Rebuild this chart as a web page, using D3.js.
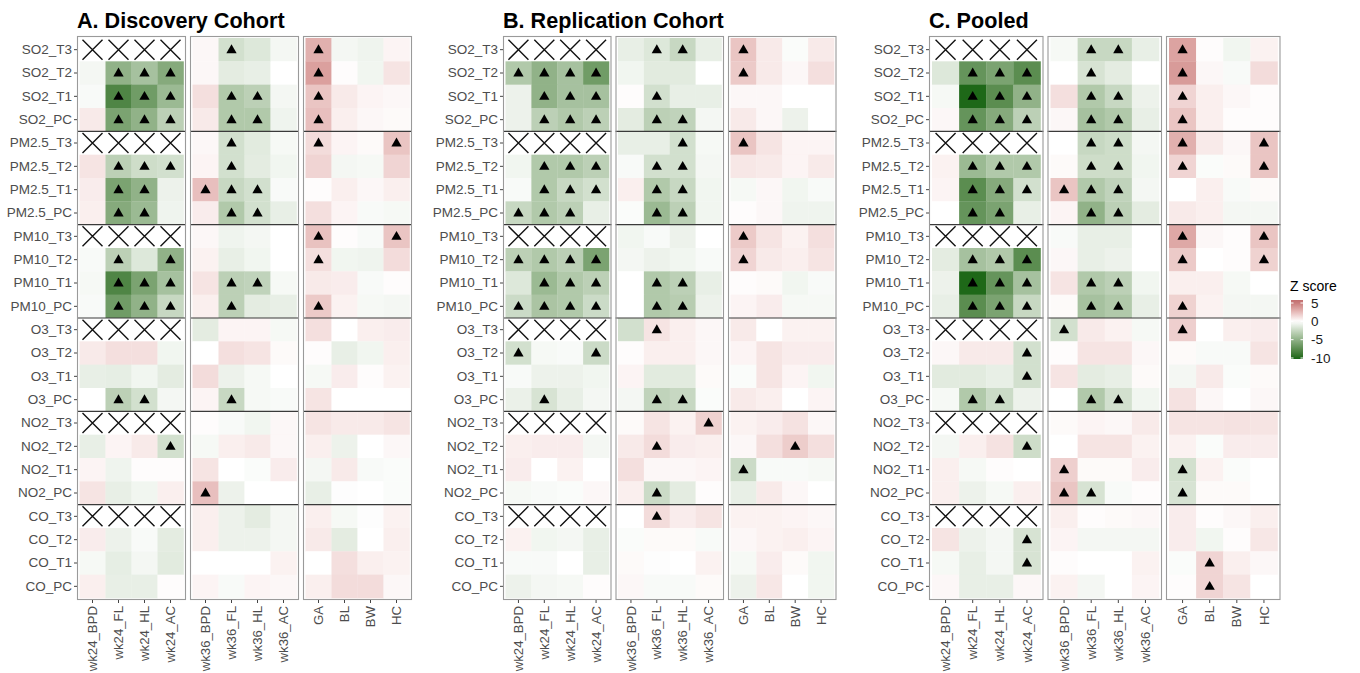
<!DOCTYPE html>
<html><head><meta charset="utf-8">
<script src="https://cdn.jsdelivr.net/npm/d3@7"></script>
<style>body{margin:0;background:#fff} text{font-family:"Liberation Sans",Arial,sans-serif}</style>
</head><body>
<svg id="c" width="1360" height="673"></svg>
<script>
const rows = ["SO2_T3","SO2_T2","SO2_T1","SO2_PC","PM2.5_T3","PM2.5_T2","PM2.5_T1","PM2.5_PC",
  "PM10_T3","PM10_T2","PM10_T1","PM10_PC","O3_T3","O3_T2","O3_T1","O3_PC",
  "NO2_T3","NO2_T2","NO2_T1","NO2_PC","CO_T3","CO_T2","CO_T1","CO_PC"];
const facetCols = [["wk24_BPD","wk24_FL","wk24_HL","wk24_AC"],["wk36_BPD","wk36_FL","wk36_HL","wk36_AC"],["GA","BL","BW","HC"]];
const titles = ["A. Discovery Cohort","B. Replication Cohort","C. Pooled"];
const legendTicks = [5,0,-5,-10];
const n = null;

const zA = [
[n,n,n,n, 0.3,-2,-1.5,-0.5, 3,-0.5,-0.7,0.4],
[-0.5,-5,-4,-5.5, 0.3,-1.2,-1,0, 3.6,0.1,-0.6,1],
[-0.3,-8,-6.5,-4.5, 1.2,-3.5,-3,-0.5, 2.2,0.8,0.4,0.3],
[0.8,-6,-5,-3, 0.8,-3.5,-3.5,-0.7, 2.4,0.6,0.3,0.2],
[n,n,n,n, 0.3,-2,-1.3,-0.4, 1.3,0.4,0.2,2.2],
[1,-3,-2.2,-2, 0.4,-2,-1.2,-0.6, 1.6,-0.5,-0.4,1.6],
[0.7,-6,-5,-0.8, 2.4,-2.5,-2,-0.3, 0.1,0.6,0.3,0.6],
[0.6,-5.5,-4.5,-0.7, 0.7,-3.5,-2,-1, 1.2,0.4,-0.3,-0.4],
[n,n,n,n, 0.3,-0.7,-0.5,0, 2.3,0.1,-0.3,2.2],
[-0.3,-3,-1.5,-5, 0.5,-1,-0.6,0, 1.2,-0.6,-0.7,1.3],
[-0.4,-8,-6,-4, 1,-3,-2.8,-0.4, 0.8,0.7,-0.3,0.1],
[-0.3,-6.5,-5,-2.5, 0.6,-3,-1.2,-1, 2,0.5,-0.4,-0.5],
[n,n,n,n, -1.2,0.4,0.4,-0.4, 1.2,0,0.6,0.7],
[0.8,1.2,1.2,-0.6, 0,1.2,1,0.2, 0.1,-1,-0.6,0.6],
[-1,-1.1,-0.6,-1.2, 1.3,-0.8,-0.4,0, -0.4,0.7,0.1,0.5],
[0,-3,-2,-0.5, 0.4,-2.5,-0.4,-0.3, 1,0,0,0],
[n,n,n,n, 0.1,-0.3,-0.6,0.3, 1,0.8,0.8,1],
[-1,0.4,0.8,-2, -0.4,0.6,0.8,0.3, 0.6,-0.8,0,0.3],
[0.4,-0.7,0.1,0.1, 1,0,-0.2,0.7, -0.5,0.8,-0.3,-0.2],
[1,-1,-0.6,0.6, 2.4,-0.8,0,0, -1,-0.1,0,-0.2],
[n,n,n,n, 0.6,-0.8,-1.2,-0.5, 0.6,-0.4,-0.1,0.5],
[0.7,-0.8,-0.3,-1.2, 0.6,-0.8,-0.8,-0.5, 0.8,-1.2,0,0.6],
[-0.4,-1.1,-0.5,-1.3, 0,0,0,0.5, 0,1.2,0.6,0.5],
[0.6,-1,-1,0.1, 0.4,-0.3,0.4,0.3, 0.6,1.3,1.3,0.3]];

const zB = [
[n,n,n,n, -1,-1.5,-2.5,-1, 2.2,0.8,-0.2,0.8],
[-3.5,-5,-4,-6.5, -0.6,-1.3,-1.3,0, 2,0.8,0.3,1.2],
[-0.8,-5,-4,-4, 0.1,-2,-1,-1, 0.3,0.3,0,0],
[-0.8,-3,-3.5,-3, -1.2,-3,-2.8,-0.5, 0.8,0.3,-0.8,0],
[n,n,n,n, -1,-1,-2,-0.4, 2.2,1,0.4,0.4],
[-0.6,-3.5,-3.5,-3, -0.3,-2,-2,-0.5, 0.9,0.8,0.4,0.8],
[-0.3,-3.5,-2.5,-2, 0.6,-3.5,-2.5,-0.6, -0.4,0.3,-0.6,-0.3],
[-2.5,-3.5,-3,-1, -0.2,-4.5,-3,-0.6, 0.1,0.3,-0.7,-0.7],
[n,n,n,n, -0.6,-0.3,-0.8,0, 2,1,0.5,1.2],
[-3,-3.5,-3,-6, -0.5,-0.8,-0.6,-0.3, 1.6,0.8,0.6,1],
[-1.5,-4.5,-3.5,-3, 0,-3.5,-3,-1, 0.1,0.2,-0.6,-0.3],
[-2.3,-3.8,-3.5,-2.3, 0,-3.5,-3.2,-0.8, 0.4,0.7,-0.4,-0.4],
[n,n,n,n, -2,1,0.6,0.3, 0.8,0,0.5,0.5],
[-2,-0.4,-0.3,-2.3, 0.1,0.6,0.6,0.3, 0.4,1,0.7,0.7],
[-0.3,-0.8,-0.8,-0.6, 0.4,-1.3,-1.3,0.2, -0.2,1,0.4,-0.6],
[-0.9,-1.8,-1,-0.5, -0.5,-2.8,-2.5,-0.2, 0.8,0.6,0,0.4],
[n,n,n,n, 0.2,1,0.5,1.7, 0.5,0.7,1.1,0.3],
[0.6,0.7,0.7,-0.5, 0.8,1.3,0.7,0.6, 0.3,1.2,1.9,1.2],
[0.7,0,0.5,0, 1.2,0.3,0.3,0.4, -2.3,-0.3,-0.3,-0.4],
[-0.4,-0.3,-0.2,0.3, 0.6,-2.3,-1.2,0.1, -1,0.8,0.3,0],
[n,n,n,n, 0,1.3,0.7,1, 0.5,0.5,0.4,0.3],
[0.5,-0.6,-0.5,-1, -0.2,0.2,0.2,-0.3, 0.3,0.5,0.6,0.4],
[-0.3,-0.3,0,-1, 0.2,-0.1,0,0.5, -0.4,0.7,0.2,-0.6],
[-0.8,-0.5,-0.4,0.1, 0.3,-0.3,-0.3,0.2, -0.8,0.9,0,-0.6]];

const zC = [
[n,n,n,n, -0.4,-2.5,-2.5,-1, 3.5,0.1,-0.6,0.5],
[-1.5,-7,-6,-7.5, 0,-1.8,-1.2,0, 3.8,0.3,-0.3,1.3],
[-0.4,-10,-7.5,-5, 1.2,-3.5,-2.5,-0.8, 1.6,0.6,0.3,0.1],
[0.3,-7,-5.5,-3, 0.3,-4,-3.5,-1, 2.2,0.6,0.1,0.1],
[n,n,n,n, 0,-2.5,-2.2,-0.5, 3,0.8,0.3,2.2],
[0.5,-4.5,-3.5,-3.5, 0.2,-2.2,-2.2,-0.6, 1.6,-0.2,0.2,2.2],
[0.4,-7.5,-5.5,-2, 2.2,-3.5,-2.8,-0.5, 0,0.6,-0.3,0.2],
[0,-7,-6,-1, 0.4,-5,-3,-1.2, 0.8,0.6,-0.5,-0.5],
[n,n,n,n, -0.3,-1,-1,0, 3.3,0.3,0.1,2.2],
[-1.2,-4,-3.5,-7.5, 0.3,-1,-0.8,0, 2,0,0.1,1.7],
[-0.8,-10,-7,-4, 1,-3.5,-3,-0.6, 0.6,0.6,-0.4,0],
[-1,-7.5,-6,-2.5, 0.2,-4,-3.5,-1, 1.7,0.5,-0.5,-0.5],
[n,n,n,n, -2,0.8,0.5,-0.4, 1.8,0,0.6,0.7],
[0.3,0.8,0.8,-2, 0.1,1,1,0.3, 0.2,-0.3,-0.3,1],
[-1.3,-1.3,-1,-2, 1,-1.2,-1,0.2, -0.5,0.8,-0.2,0.2],
[-0.4,-3.5,-2.3,-0.8, 0,-3.5,-2,-0.6, 1.1,0.3,0,0.3],
[n,n,n,n, 0.2,0.4,0.3,0.8, 1,1,1.1,1],
[-0.5,0.6,1.1,-2.2, 0,1,1,0.5, 0.5,-0.2,0.7,0.7],
[0.6,-0.4,0.1,0, 1.8,0.2,0.2,0.7, -2,0.5,-0.2,0],
[0.6,-0.8,-0.4,0.6, 2.2,-1.8,-0.3,0.1, -1.8,0.2,0.2,0],
[n,n,n,n, 0.6,0.1,0.2,0.3, 0.7,0.1,0.3,0.6],
[1,-0.8,-0.5,-1.8, 0.4,-0.5,-0.5,-0.5, 0.7,-0.6,0.1,0.9],
[-0.4,-1,-0.5,-1.8, 0.1,0,0,0.5, -0.2,1.6,0.6,0.3],
[0.3,-1,-1,0.3, 0.5,-0.5,0,0.4, 0.1,1.6,1,0]];

// significant cells (column indices 0..11) per row
const sigA = [[5,8],[1,2,3,8],[1,2,3,5,6,8],[1,2,3,5,6,8],[5,8,11],[1,2,3,5],[1,2,4,5,6],[1,2,5,6],
  [8,11],[1,3,8],[1,2,3,5,6],[1,2,3,5,8],[],[],[],[1,2,5],[],[3],[],[4],[],[],[],[]];
const sigB = [[5,6,8],[0,1,2,3,8],[1,2,3,5],[1,2,3,5,6],[6,8],[1,2,3,5,6],[1,2,3,5,6],[0,1,2,5,6],
  [8],[0,1,2,3,8],[1,2,3,5,6],[0,1,2,3,5,6],[5],[0,3],[],[1,5,6],[7],[5,10],[8],[5],[5],[],[],[]];
const sigC = [[5,6,8],[1,2,3,5,8],[1,2,3,5,6,8],[1,2,3,5,6,8],[5,6,8,11],[1,2,3,5,6,8,11],[1,2,3,4,5,6],[1,2,5,6],
  [8,11],[1,2,3,8,11],[1,2,3,5,6],[1,2,3,5,6,8],[4,8],[3],[3],[1,2,5,6],[],[3],[4,8],[4,5,8],[],[3],[3,9],[9]];

const panels = [
  {title:titles[0], z:zA, sig:sigA, x0:77,  fw:109,   sp:113,   pad:2.5},
  {title:titles[1], z:zB, sig:sigB, x0:503, fw:108.5, sp:112.5, pad:2.5},
  {title:titles[2], z:zC, sig:sigC, x0:929, fw:114.5, sp:118.5, pad:3}
];

const svg = d3.select("#c");
const color = d3.scaleLinear().domain([-10.3,0,5.55]).range(["#136410","#ffffff","#c26e6e"])
  .interpolate(d3.interpolateLab).clamp(true);
const top0 = 36, bot0 = 600;
const y = d3.scaleBand().domain(rows).range([top0+2, bot0-2]);
const tri = d3.symbol().type(d3.symbolTriangle).size(46)();

panels.forEach(p => {
  const g = svg.append("g");
  g.append("text").attr("x", p.x0).attr("y", 28).text(p.title)
    .style("font-weight","bold").style("font-size","21.6px").attr("fill","#000");
  facetCols.forEach((cols, fi) => {
    const fx = p.x0 + fi*p.sp;
    const x = d3.scaleBand().domain(cols).range([fx+p.pad, fx+p.fw-p.pad]);
    const cells = [];
    rows.forEach((r, ri) => cols.forEach((c, ci) => {
      const k = fi*4 + ci;
      cells.push({r, c, v: p.z[ri][k], s: p.sig[ri].includes(k)});
    }));
    g.append("rect").attr("x", fx).attr("y", top0).attr("width", p.fw).attr("height", bot0-top0).attr("fill","#fff");
    g.append("g").selectAll("rect").data(cells).join("rect")
      .attr("x", d => x(d.c)).attr("y", d => y(d.r))
      .attr("width", x.bandwidth()+0.3).attr("height", y.bandwidth()+0.3)
      .attr("fill", d => d.v == null ? "#fff" : color(d.v));
    const xs = cells.filter(d => d.v == null);
    const h = 10;
    g.append("g").selectAll("path").data(xs).join("path")
      .attr("d", d => {
        const cx = x(d.c) + x.bandwidth()/2, cy = y(d.r) + y.bandwidth()/2;
        return `M${cx-h},${cy-h}L${cx+h},${cy+h}M${cx-h},${cy+h}L${cx+h},${cy-h}`;
      })
      .attr("stroke","#111").attr("stroke-width",1.4).attr("fill","none");
    g.append("g").selectAll("path").data(cells.filter(d => d.s)).join("path")
      .attr("d", tri)
      .attr("transform", d => `translate(${x(d.c)+x.bandwidth()/2},${y(d.r)+y.bandwidth()/2+0.5})`)
      .attr("fill","#000");
    [4,8,12,16,20].forEach(i => {
      g.append("line").attr("x1", fx).attr("x2", fx+p.fw)
        .attr("y1", y(rows[i])).attr("y2", y(rows[i]))
        .attr("stroke","#3a3a3a").attr("stroke-width",1.2);
    });
    g.append("rect").attr("x", fx+0.5).attr("y", top0+0.5).attr("width", p.fw-1).attr("height", bot0-top0-1)
      .attr("fill","none").attr("stroke","#9a9a9a").attr("stroke-width",1.1);
    const ax = g.append("g").attr("transform", `translate(0,${bot0})`)
      .call(d3.axisBottom(x).tickSize(3).tickSizeOuter(0));
    ax.select(".domain").remove();
    ax.selectAll("line").attr("stroke","#444");
    ax.selectAll("text").attr("transform","rotate(-90)").attr("x",-6).attr("y",0).attr("dy","0.35em")
      .attr("text-anchor","end").style("font-size","13.2px").attr("fill","#4d4d4d")
      .style("font-family","'Liberation Sans',Arial,sans-serif");
    if (fi === 0) {
      const ay = g.append("g").attr("transform", `translate(${fx},0)`)
        .call(d3.axisLeft(y).tickSize(3).tickSizeOuter(0).tickPadding(2));
      ay.select(".domain").remove();
      ay.selectAll("line").attr("stroke","#444");
      ay.selectAll("text").style("font-size","13.5px").attr("fill","#4d4d4d")
        .style("font-family","'Liberation Sans',Arial,sans-serif");
    }
  });
});

// legend
const lg = svg.append("g");
const ly = d3.scaleLinear().domain([5,-10]).range([303,358]);
const lmin = ly.invert(359), lmax = ly.invert(300);
const grad = svg.append("defs").append("linearGradient").attr("id","gz")
  .attr("x1",0).attr("x2",0).attr("y1",0).attr("y2",1);
d3.range(0,21).forEach(i => {
  const t = i/20, v = lmax + (lmin-lmax)*t;
  grad.append("stop").attr("offset", t).attr("stop-color", color(v));
});
lg.append("text").attr("x",1290).attr("y",291).text("Z score").style("font-size","14px").attr("fill","#000");
lg.append("rect").attr("x",1291).attr("y",ly(lmax)).attr("width",12).attr("height",ly(lmin)-ly(lmax)).attr("fill","url(#gz)");
lg.selectAll("line.tk").data(legendTicks).join("line").attr("class","tk")
  .attr("x1",1291).attr("x2",1293.5).attr("y1",d=>ly(d)).attr("y2",d=>ly(d)).attr("stroke","#fff");
lg.selectAll("line.tk2").data(legendTicks).join("line").attr("class","tk2")
  .attr("x1",1300.5).attr("x2",1303).attr("y1",d=>ly(d)).attr("y2",d=>ly(d)).attr("stroke","#fff");
lg.selectAll("text.lb").data(legendTicks).join("text").attr("class","lb")
  .attr("x",1311).attr("y",d=>ly(d)).attr("dy","0.35em").text(d=>d)
  .style("font-size","13.5px").attr("fill","#1a1a1a");
</script>
</body></html>
